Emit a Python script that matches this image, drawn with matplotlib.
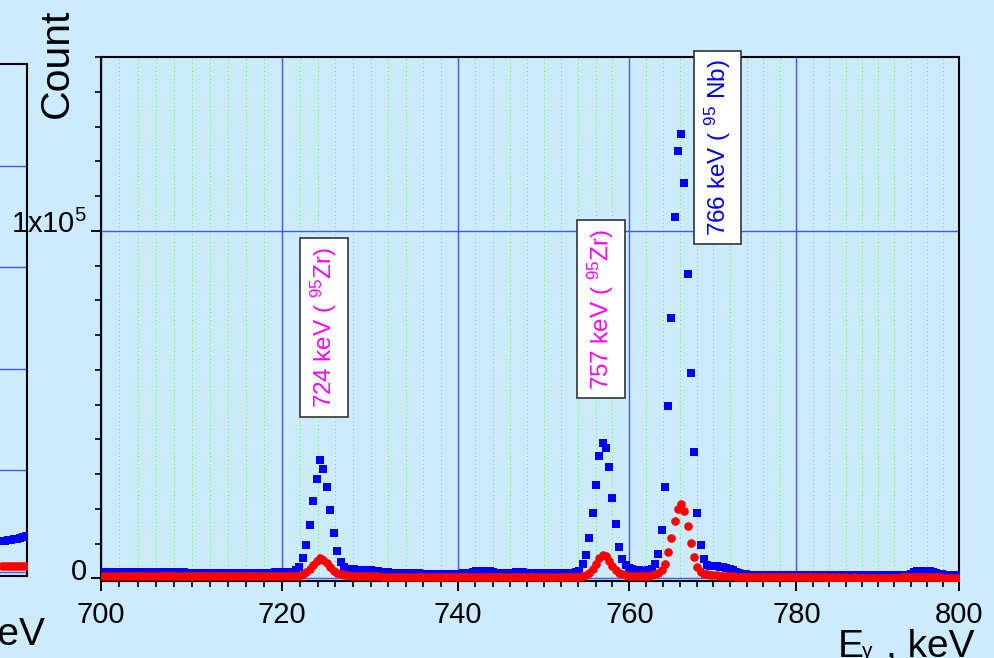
import numpy as np
import matplotlib
matplotlib.use('Agg')
import matplotlib.pyplot as plt
import matplotlib.ticker as mticker
import matplotlib.transforms as mtransforms

# ==========================================
# gamma spectrum 700-800 keV, two measurements (blue squares / red circles)
# ==========================================
plt.rcParams['font.family'] = ['Liberation Sans', 'DejaVu Sans']
plt.rcParams['mathtext.fontset'] = 'custom'
plt.rcParams['mathtext.rm'] = 'Liberation Sans'
plt.rcParams['mathtext.it'] = 'Liberation Sans:italic'
plt.rcParams['mathtext.bf'] = 'Liberation Sans:bold'

# channel calibration (keV)
e_start = 700.24
e_step = 0.3876

# counts per channel
blue_counts = [
    1750, 1740, 1760, 1720, 1730, 1750, 1710, 1700, 1720, 1690,
    1700, 1690, 1710, 1680, 1700, 1690, 1670, 1690, 1680, 1660,
    1680, 1670, 1650, 1670, 1660, 1640, 1660, 1650, 1630, 1650,
    1640, 1630, 1640, 1620, 1640, 1630, 1610, 1630, 1620, 1640,
    1620, 1630, 1610, 1620, 1640, 1620, 1650, 1640, 1660, 1680,
    1690, 1700, 1720, 1760, 1950, 2300, 3300, 5700, 9500, 15300,
    22200, 28500, 34000, 31400, 26200, 19600, 13000, 7850, 4700, 3300,
    2800, 2650, 2550, 2500, 2450, 2400, 2350, 2250, 2150, 2050,
    1950, 1850, 1750, 1650, 1600, 1550, 1500, 1480, 1450, 1420,
    1400, 1380, 1370, 1360, 1350, 1340, 1330, 1330, 1320, 1320,
    1320, 1320, 1330, 1340, 1380, 1480, 1650, 1850, 2030, 2150,
    2180, 2120, 1980, 1760, 1560, 1430, 1380, 1400, 1480, 1620,
    1780, 1800, 1720, 1580, 1460, 1400, 1390, 1380, 1380, 1390,
    1400, 1400, 1410, 1430, 1460, 1500, 1560, 1650, 1800, 2100,
    4000, 6600, 11600, 18700, 26700, 35200, 39000, 37600, 31900, 23000,
    15700, 8900, 5500, 3800, 3000, 2700, 2500, 2300, 2150, 2150,
    2350, 2700, 4000, 7100, 14000, 26300, 49700, 74800, 104100, 122900,
    127800, 113600, 87500, 59200, 36200, 18900, 9600, 5500, 3900, 3500,
    3450, 3400, 3350, 3250, 3100, 2800, 2300, 1800, 1400, 1200,
    1100, 1000, 950, 920, 900, 890, 880, 870, 870, 860,
    860, 860, 870, 860, 850, 860, 870, 860, 850, 860,
    860, 850, 860, 880, 880, 860, 850, 860, 850, 850,
    860, 880, 900, 890, 870, 860, 850, 860, 850, 860,
    850, 860, 850, 860, 850, 850, 860, 860, 870, 880,
    920, 1050, 1350, 1700, 1980, 2150, 2200, 2180, 2100, 1900,
    1600, 1300, 1100, 980, 920, 890, 880, 870,
]

red_counts = [
    600, 610, 600, 590, 600, 610, 590, 600, 590, 600,
    590, 600, 590, 580, 590, 600, 580, 590, 580, 590,
    580, 590, 580, 570, 580, 590, 570, 580, 570, 580,
    570, 580, 570, 560, 570, 580, 560, 570, 560, 570,
    560, 570, 560, 550, 560, 570, 560, 560, 560, 560,
    560, 560, 570, 580, 600, 650, 800, 1100, 1700, 2700,
    3900, 5100, 5750, 5400, 4500, 3300, 2200, 1500, 1150, 950,
    850, 780, 720, 680, 640, 610, 590, 570, 550, 530,
    510, 490, 470, 450, 430, 410, 400, 390, 380, 370,
    360, 350, 340, 330, 320, 310, 300, 300, 300, 300,
    300, 300, 310, 320, 340, 370, 400, 420, 430, 420,
    400, 380, 350, 330, 310, 300, 300, 310, 330, 350,
    360, 350, 330, 310, 300, 300, 300, 300, 310, 310,
    310, 320, 330, 340, 350, 360, 380, 400, 430, 470,
    600, 900, 1500, 2600, 4200, 5800, 6700, 6300, 5000, 3500,
    2300, 1500, 1100, 900, 800, 760, 740, 730, 730, 740,
    800, 950, 1200, 1500, 2400, 4000, 7650, 11700, 16400, 20000,
    21400, 19300, 15100, 10100, 6200, 3300, 1900, 1300, 1100, 1000,
    900, 820, 760, 700, 650, 600, 550, 500, 450, 400,
    370, 350, 330, 310, 300, 290, 280, 270, 260, 250,
    250, 250, 240, 250, 240, 240, 250, 240, 230, 240,
    230, 240, 230, 230, 240, 230, 220, 230, 220, 230,
    220, 230, 220, 220, 230, 220, 210, 220, 210, 220,
    210, 220, 210, 210, 220, 210, 210, 220, 220, 230,
    240, 250, 260, 270, 280, 280, 280, 270, 260, 250,
    240, 230, 220, 210, 210, 200, 200, 200,
]

# neighbouring panel (only its right edge is visible)
left_blue = [0.30, 0.305, 0.31, 0.315, 0.32, 0.325, 0.33, 0.34, 0.355]
left_red = [0.055, 0.056, 0.056, 0.057, 0.057, 0.058, 0.058, 0.059, 0.06]

x_major = [700, 720, 740, 760, 780, 800]
x_major_labels = ['700', '720', '740', '760', '780', '800']
x_minor = [e for e in range(702, 800, 2) if e not in x_major]
y_major = [0, 100000]
y_major_labels = ['0', '1x10$^5$']
y_minor = list(range(10000, 150001, 10000))

peak_labels = [
    (724.72, 72200, '724 keV ( $^{95}$Zr)', '#FF00FF'),
    (756.65, 77500, '757 keV ( $^{95}$Zr)', '#FF00FF'),
    (770.49, 123900, '766 keV ( $^{95}$ Nb)', '#0000EE'),
]

energy = e_start + e_step * np.arange(len(blue_counts))

bg = '#CCEBFD'
grid_blue = '#4455FF'
grid_green = '#55EE55'
ms_blue = 5.6
ms_red = 6.2

W, H = 994, 658
fig = plt.figure(figsize=(W / 100, H / 100), dpi=100, facecolor=bg)

# ---- left partial panel ----
axl = fig.add_axes([0, (H - 576) / H, 27 / W, 512 / H], facecolor=bg)
axl.plot(np.arange(len(left_blue)), left_blue, ls='none', marker='s', ms=ms_blue,
         mew=0, color='#0000FF', zorder=3)
axl.plot(np.arange(len(left_red)), left_red, ls='none', marker='o', ms=ms_red,
         mew=0, color='#FF0000', zorder=4)
axl.set_xlim(-0.5, len(left_blue) - 0.6)
axl.set_ylim(-0.04, 5.0)
axl.set_yticks([0, 1, 2, 3, 4])
axl.set_xticks([])
axl.grid(axis='y', color=grid_blue, lw=1.0)
axl.set_axisbelow(True)
axl.tick_params(left=False, labelleft=False)
axl.spines['left'].set_visible(False)
for s in ['top', 'right', 'bottom']:
    axl.spines[s].set_linewidth(1.5)
fig.text(45 / W, 13 / H, 'keV', fontsize=28, ha='right', va='baseline')

# ---- main panel ----
ax = fig.add_axes([101 / W, 77 / H, 858 / W, 524 / H], facecolor=bg)
ax.plot(energy, blue_counts, ls='none', marker='s', ms=ms_blue, mew=0,
        color='#0000FF', zorder=3)
ax.plot(energy, red_counts, ls='none', marker='o', ms=ms_red, mew=0,
        color='#FF0000', zorder=4)

ax.set_xscale('log')
ax.set_xlim(700, 800)
ax.set_ylim(-780, 150000)

ax.xaxis.set_major_locator(mticker.FixedLocator(x_major))
ax.xaxis.set_major_formatter(mticker.FixedFormatter(x_major_labels))
ax.xaxis.set_minor_locator(mticker.FixedLocator(x_minor))
ax.xaxis.set_minor_formatter(mticker.NullFormatter())
ax.yaxis.set_major_locator(mticker.FixedLocator(y_major))
ax.yaxis.set_major_formatter(mticker.FixedFormatter(y_major_labels))
ax.yaxis.set_minor_locator(mticker.FixedLocator(y_minor))
ax.yaxis.set_minor_formatter(mticker.NullFormatter())

ax.grid(which='major', color=grid_blue, lw=1.0)
ax.grid(which='minor', axis='x', color=grid_green, lw=0.7, ls=(0, (1, 3)))
ax.set_axisbelow(True)

ax.tick_params(which='major', direction='out', length=7.2, width=1.4,
               labelsize=21, colors='black')
ax.tick_params(axis='x', which='major', pad=7)
ax.tick_params(axis='y', which='major', pad=3)
ax.tick_params(which='minor', direction='out', length=4.3, width=1.2)
for s in ax.spines.values():
    s.set_linewidth(1.5)

# y tick labels sit a little above their ticks
offset = mtransforms.ScaledTranslation(0, 7 / 72, fig.dpi_scale_trans)
for lab in ax.get_yticklabels():
    lab.set_transform(lab.get_transform() + offset)

for x, y, txt, col in peak_labels:
    ax.text(x, y, txt, rotation=90, ha='center', va='center', fontsize=17.5,
            color=col, zorder=6, clip_on=False,
            bbox=dict(boxstyle='square,pad=0.35', fc='white', ec='#333333', lw=1.2))

fig.text(57 / W, 1 - 63 / H, 'Count', rotation=90, fontsize=29.5,
         ha='center', va='center')
fig.text(838 / W, 1 / H, 'E', fontsize=28, ha='left', va='baseline')
fig.text(862 / W, 1 / H, 'γ', fontsize=15, ha='left', va='baseline')
fig.text(975 / W, 1 / H, ', keV', fontsize=28, ha='right', va='baseline')

fig.savefig('out.png', dpi=100, facecolor=bg)
